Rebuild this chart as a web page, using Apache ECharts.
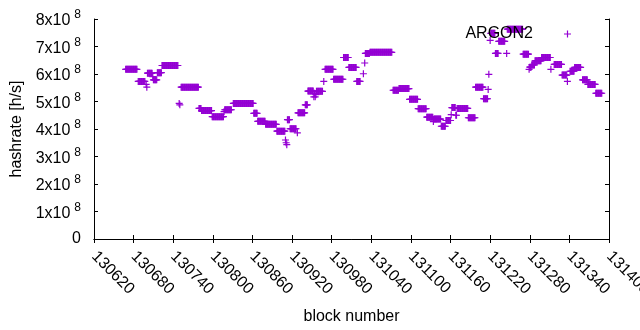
<!DOCTYPE html>
<html>
<head>
<meta charset="utf-8">
<script src="https://cdn.jsdelivr.net/npm/echarts@6/dist/echarts.min.js"></script>
<style>
html,body{margin:0;padding:0;background:#fff;}
#chart{width:640px;height:330px;}
</style>
</head>
<body>
<div id="chart"></div>
<script>
// Runs of consecutive blocks sharing one hashrate value
const runStart = [130668,130687,130699,130700,130701,130709,130710,130716,130723,130749,130750,130752,130779,130783,130799,130817,130818,130831,130862,130868,130880,130897,130910,130911,130912,130913,130917,130928,130929,130940,130944,130953,130954,130955,130956,130957,130968,130970,130983,130998,131006,131018,131028,131030,131031,131038,131073,131082,131098,131111,131124,131134,131135,131146,131153,131161,131162,131168,131170,131187,131198,131210,131217,131218,131220,131221,131228,131233,131245,131246,131270,131279,131280,131283,131288,131298,131312,131317,131329,131337,131341,131348,131360,131368,131380];
const runEnd   = [130685,130697,130699,130700,130708,130709,130715,130722,130747,130749,130750,130778,130782,130798,130816,130817,130828,130861,130867,130879,130896,130909,130910,130911,130912,130916,130926,130928,130939,130943,130952,130953,130954,130955,130956,130966,130968,130982,130997,131005,131017,131023,131028,131030,131037,131071,131081,131097,131110,131123,131133,131134,131145,131152,131160,131161,131167,131169,131186,131197,131209,131216,131217,131218,131220,131227,131232,131242,131245,131269,131278,131279,131282,131287,131297,131311,131312,131328,131336,131337,131347,131357,131367,131379,131389];
const runRate  = [6.17e8,5.73e8,5.62e8,5.52e8,6.03e8,5.90e8,5.79e8,6.05e8,6.31e8,4.93e8,4.88e8,5.52e8,4.75e8,4.67e8,4.45e8,4.63e8,4.70e8,4.93e8,4.57e8,4.28e8,4.17e8,3.92e8,3.60e8,3.50e8,3.43e8,4.34e8,4.01e8,3.86e8,4.59e8,4.88e8,5.38e8,5.17e8,5.30e8,5.17e8,5.25e8,5.37e8,5.73e8,6.17e8,5.81e8,6.60e8,6.24e8,5.73e8,6.01e8,6.40e8,6.75e8,6.79e8,5.41e8,5.47e8,5.08e8,4.74e8,4.43e8,4.27e8,4.36e8,4.10e8,4.31e8,4.52e8,4.78e8,4.50e8,4.75e8,4.41e8,5.52e8,5.10e8,5.44e8,5.99e8,7.22e8,7.48e8,6.75e8,7.19e8,6.75e8,7.63e8,6.72e8,6.17e8,6.25e8,6.33e8,6.48e8,6.60e8,6.17e8,6.35e8,5.96e8,5.73e8,6.10e8,6.24e8,5.79e8,5.62e8,5.30e8];

const seriesName = 'ARGON2';
const xTitle = 'block number';
const yTitle = 'hashrate [h/s]';
const xMin = 130620, xMax = 131400, xStep = 60;
const yMin = 0, yMax = 8e8, yStep = 1e8;
const yExponent = 8;

const points = [];
for (let i = 0; i < runStart.length; i++) {
  for (let b = runStart[i]; b <= runEnd[i]; b++) points.push([b, runRate[i]]);
}

const FONT = 'Liberation Sans';
const PURPLE = '#9400d3';
const PLUS = 'path://M0,2.9H7V4.1H0Z M2.9,0H4.1V7H2.9Z';

const chart = echarts.init(document.getElementById('chart'), null, {renderer: 'canvas'});
const axisLine = {show: true, lineStyle: {color: '#000', width: 1}};
const tick = {show: true, inside: true, length: 4, lineStyle: {color: '#000', width: 1}};

chart.setOption({
  animation: false,
  backgroundColor: '#fff',
  grid: {left: 94, right: 31, top: 19, bottom: 91, containLabel: false, outerBoundsMode: 'none'},
  legend: {
    data: [{name: seriesName, icon: PLUS}],
    right: 64, top: 21, align: 'right',
    itemWidth: 7, itemHeight: 7,
    selectedMode: false,
    textStyle: {fontFamily: FONT, fontSize: 16, color: '#000', padding: [0, 26, 0, 0]}
  },
  xAxis: [{
    type: 'value', min: xMin, max: xMax, interval: xStep,
    axisLine: axisLine, axisTick: tick, splitLine: {show: false},
    axisLabel: {rotate: -45, margin: 15, fontFamily: FONT, fontSize: 16, color: '#000',
      formatter: v => String(v), showMinLabel: true, showMaxLabel: true, hideOverlap: false},
    name: xTitle, nameLocation: 'middle', nameGap: 70,
    nameTextStyle: {fontFamily: FONT, fontSize: 16, color: '#000'}
  }, {
    type: 'value', position: 'top', min: xMin, max: xMax, interval: xStep,
    axisLine: axisLine, axisTick: tick, splitLine: {show: false}, axisLabel: {show: false}
  }],
  yAxis: [{
    type: 'value', min: yMin, max: yMax, interval: yStep,
    axisLine: axisLine, axisTick: tick, splitLine: {show: false},
    axisLabel: {
      margin: 13, fontFamily: FONT, fontSize: 16, color: '#000',
      formatter: v => v === 0 ? '0' : '{m|' + (v / Math.pow(10, yExponent)) + 'x10}{e|' + yExponent + '}',
      rich: {
        m: {fontFamily: FONT, fontSize: 16, color: '#000', lineHeight: 20, verticalAlign: 'bottom'},
        e: {fontFamily: FONT, fontSize: 12, color: '#000', lineHeight: 12, verticalAlign: 'top', padding: [0, 0, 0, 4]}
      }
    },
    name: yTitle, nameLocation: 'middle', nameRotate: 90, nameGap: 69,
    nameTextStyle: {fontFamily: FONT, fontSize: 16, color: '#000'}
  }, {
    type: 'value', position: 'right', min: yMin, max: yMax, interval: yStep,
    axisLine: axisLine, axisTick: tick, splitLine: {show: false}, axisLabel: {show: false}
  }],
  series: [{
    name: seriesName, type: 'scatter', data: points,
    symbol: PLUS, symbolSize: 7,
    itemStyle: {color: PURPLE, opacity: 1},
    silent: true, large: false,
    emphasis: {disabled: true}
  }]
});
</script>
</body>
</html>
